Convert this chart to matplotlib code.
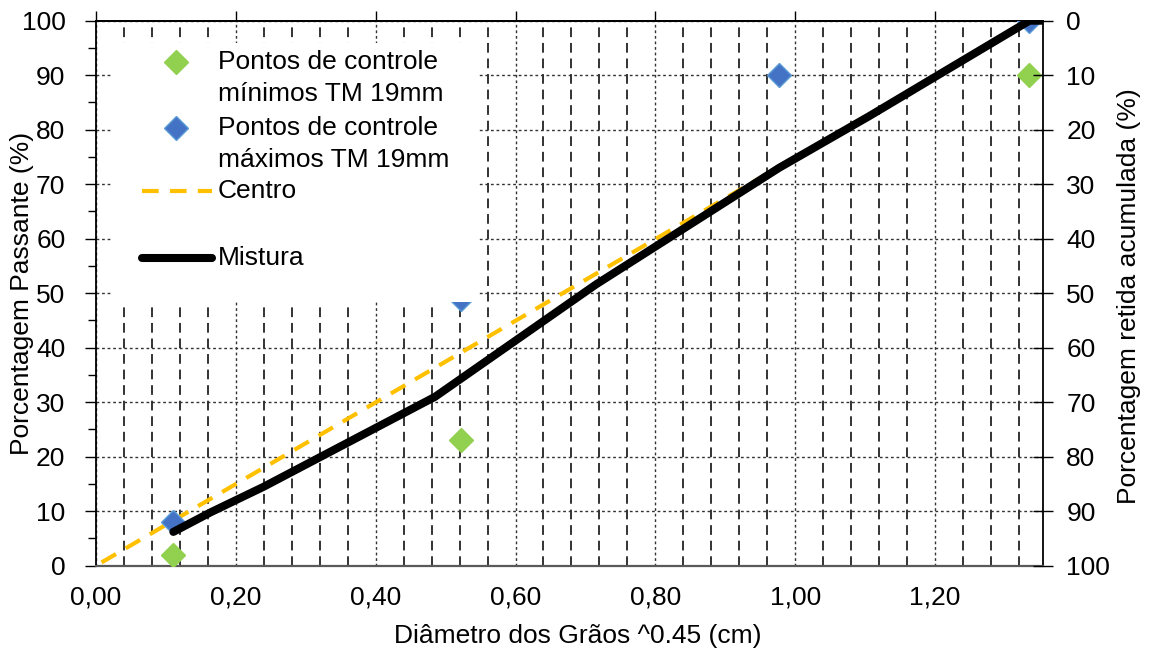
import matplotlib
matplotlib.use("Agg")
import matplotlib.pyplot as plt
import numpy as np
from matplotlib.ticker import MultipleLocator, FuncFormatter
from matplotlib.patches import Rectangle

plt.rcParams['font.family'] = ['Liberation Sans', 'DejaVu Sans']

# dados (x = diâmetro^0.45, cm)
min_x = [0.1106, 0.522, 1.335]
min_y = [2, 23, 90]
max_x = [0.1106, 0.522, 0.977, 1.335]
max_y = [8, 49, 90, 100]
centro_x = [0.008, 1.335]
centro_y = [0.6, 100]
mistura_x = [0.1106, 0.164, 0.240, 0.485, 0.715, 0.977, 1.106, 1.335, 1.51]
mistura_y = [6.2, 9.8, 14.5, 31.0, 51.6, 73.0, 82.5, 100, 100]

x_max = 1.354
fs = 19

fig = plt.figure(figsize=(11.52, 6.53), dpi=100)
ax = fig.add_axes([96/1152, 1 - 565.7/653, 946.7/1152, 545/653])

ax.set_xlim(0, x_max)
ax.set_ylim(0, 100)
ax.xaxis.set_major_locator(MultipleLocator(0.2))
ax.xaxis.set_minor_locator(MultipleLocator(0.04))
ax.yaxis.set_major_locator(MultipleLocator(10))
ax.yaxis.set_minor_locator(MultipleLocator(5))
ax.xaxis.set_major_formatter(FuncFormatter(lambda v, p: f"{v:.2f}".replace('.', ',')))

ax.grid(True, which='major', axis='both', color='#333333', lw=1.0, ls=(0, (2, 2)))
ax.grid(True, which='minor', axis='x', color='#333333', lw=1.4, ls=(0, (5, 3)))
ax.set_axisbelow(True)

ax.tick_params(axis='x', which='both', bottom=False, length=0, labelsize=fs, pad=14)
ax.tick_params(axis='y', which='major', direction='out', length=8, width=1, labelsize=fs, pad=14)
ax.tick_params(axis='y', which='minor', direction='out', length=6, width=1)

for s in ['left', 'top', 'right']:
    ax.spines[s].set_color('black')
    ax.spines[s].set_linewidth(1.3)
ax.spines['bottom'].set_color('#595959')
ax.spines['bottom'].set_linewidth(1.6)

# séries
ax.plot(centro_x, centro_y, color='#FFC000', lw=3, ls=(0, (4, 2.7)), zorder=2.5)
ax.plot(min_x, min_y, ls='none', marker='D', ms=12, color='#92D050', mec='#92D050', zorder=3)
ax.plot(max_x, max_y, ls='none', marker='D', ms=12, color='#4472C4', mec='#5B9BD5', zorder=3)
ax.plot(mistura_x, mistura_y, color='black', lw=5.8, solid_capstyle='round', zorder=5)

# eixo superior (apenas marcas)
top = ax.secondary_xaxis('top')
top.xaxis.set_major_locator(MultipleLocator(0.2))
top.tick_params(direction='out', length=7, width=1, labeltop=False)
top.spines['top'].set_linewidth(1.3)

# eixo direito invertido
ax2 = ax.twinx()
ax2.set_ylim(100, 0)
ax2.yaxis.set_major_locator(MultipleLocator(10))
ax2.tick_params(axis='y', direction='inout', length=14, width=1, labelsize=fs, pad=10)
for s in ax2.spines.values():
    s.set_visible(False)

fig.text(22/1152, 1 - 293/653, 'Porcentagem Passante (%)', fontsize=fs,
         rotation=90, ha='center', va='center')
fig.text(1129/1152, 1 - 296/653, 'Porcentagem retida acumulada (%)', fontsize=fs,
         rotation=90, ha='center', va='center')
fig.text(578/1152, 1 - 636/653, 'Diâmetro dos Grãos ^0.45 (cm)', fontsize=fs,
         ha='center', va='center')

# legenda desenhada à mão
W, H = 946.7, 545.0
def ac(px, py):
    return ((px - 96) / W, (565.7 - py) / H)

x0, y0 = ac(112, 302)
x1, y1 = ac(478, 43)
ax2.add_patch(Rectangle((x0, y0), x1 - x0, y1 - y0, transform=ax.transAxes,
                        facecolor='white', edgecolor='none', zorder=6, clip_on=False))

entries = [
    ('marker', '#92D050', '#92D050', 62, ['Pontos de controle', 'mínimos TM 19mm']),
    ('marker', '#4472C4', '#5B9BD5', 128, ['Pontos de controle', 'máximos TM 19mm']),
    ('dash', '#FFC000', None, 191, ['Centro']),
    ('solid', 'black', None, 258, ['Mistura']),
]
for kind, c, ec, py, lines in entries:
    if kind == 'marker':
        mx, my = ac(176, py)
        ax2.plot([mx], [my], transform=ax.transAxes, marker='D', ms=12, color=c,
                 mec=ec, ls='none', zorder=7, clip_on=False)
    else:
        lx0, ly = ac(142, py)
        lx1, _ = ac(212, py)
        if kind == 'dash':
            ax2.plot([lx0, lx1], [ly, ly], transform=ax.transAxes, color=c, lw=3,
                     ls=(0, (4, 2.7)), zorder=7, clip_on=False)
        else:
            ax2.plot([lx0, lx1], [ly, ly], transform=ax.transAxes, color=c, lw=5.8,
                     solid_capstyle='round', zorder=7, clip_on=False)
    for i, t in enumerate(lines):
        tx, ty = ac(218, py + i * 32)
        ax2.text(tx, ty, t, transform=ax.transAxes, fontsize=fs, ha='left',
                 va='center', zorder=8)

fig.savefig('out.png', dpi=100)
